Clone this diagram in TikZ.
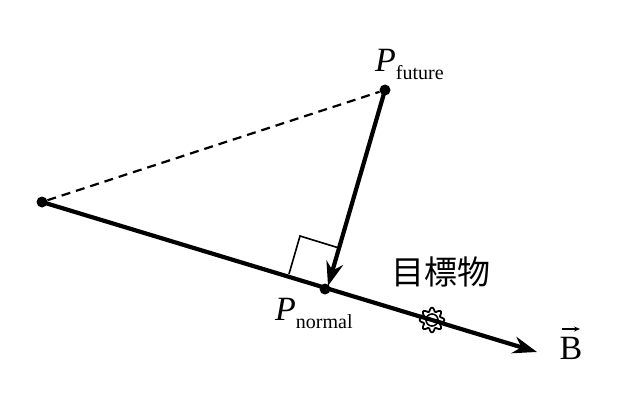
\documentclass[tikz,border=0pt]{standalone}
\usepackage{fontspec}
\setmainfont{Liberation Serif}
\newfontfamily\cjk{Noto Sans CJK SC}
\usetikzlibrary{arrows.meta,calc}
\begin{document}
\begin{tikzpicture}[x=1pt,y=-1pt,
  dotn/.style={circle,fill=black,inner sep=0pt,minimum size=11pt},
  thickln/.style={line width=4.2pt},
  lbl/.style={inner sep=0pt,font=\fontsize{34}{34}\selectfont}]
\useasboundingbox (0,0) rectangle (640,412);
\coordinate (L) at (42,202);
\coordinate (E) at (537,352);
\coordinate (F) at (328,286);
\node[dotn] (a) at (42,202) {};
\node[dotn] (pf) at (385,90) {};
\node[dotn] (pn) at (325,289) {};
\draw[line width=2.2pt,dashed,dash pattern=on 9pt off 6pt] (a) -- (pf);
\draw[thickln,-{Stealth[length=24pt,width=17pt]}] (a.center) -- (E);
\draw[thickln,-{Stealth[length=24pt,width=17pt]}] (pf.center) -- (F);
\draw[line width=1.6pt] (289,274) -- (300,236) -- (339,248);
\node[lbl,anchor=base west] (tp) at (375,72) {\textit{P}\fontsize{20}{20}\selectfont\raisebox{-7pt}{future}};
\node[lbl,anchor=base west] (np) at (275,320) {\textit{P}\fontsize{20}{20}\selectfont\raisebox{-8pt}{normal}};
\node[inner sep=0pt,font=\cjk\fontsize{33}{33}\selectfont] (t) at (441,272) {目標物};
\node[lbl] (b) at (571,348) {B};
\draw[line width=1.2pt,-{Stealth[length=6pt,width=5pt]}] (562,329) -- (580,329);
\begin{scope}[shift={(432,320)}]
\fill[white] (0,0) circle (12);
\draw[line width=1.8pt] plot[domain=0:360,samples=160,smooth] ({(10.5+1.8*cos(8*\x))*cos(\x)},{(10.5+1.8*cos(8*\x))*sin(\x)});
\draw[line width=1.6pt] (0,0) circle (6);
\draw[line width=4.2pt] (-12,-3.6) -- (12,3.6);
\end{scope}
\end{tikzpicture}
\end{document}
